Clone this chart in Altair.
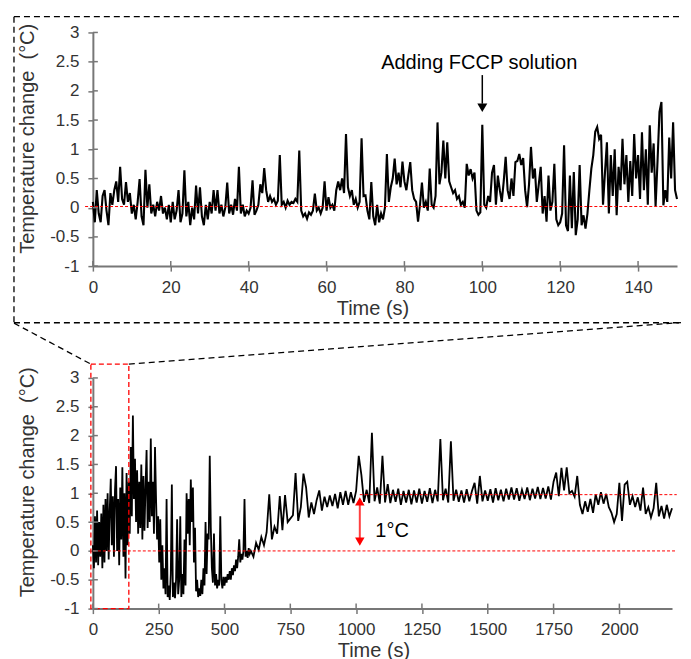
import altair as alt
import pandas as pd

# ---------------- data ----------------
TOP_STEP = 0.5  # s between samples of the zoomed (0-150 s) trace
top_temp = [
    0.1, -0.25, 0.3, -0.1, -0.25, 0.2, 0.3, -0.05, -0.3, 0.25, 0.05, 0.3, 0.45, 0.1, 0.7, 0.15, 0.05, 0.44, 0.1, 0.25,
    -0.1, 0.05, -0.2, 0.1, 0.49, -0.15, -0.3, 0.65, 0.0, 0.4, -0.1, 0.05, -0.15, 0.1, -0.05, 0.2, -0.1, 0.0, -0.2, 0.05,
    -0.25, 0.1, -0.2, -0.05, 0.3, -0.25, -0.1, 0.64, -0.15, 0.1, -0.3, 0.0, -0.2, 0.38, -0.1, 0.35, -0.15, -0.3, 0.05, -0.2,
    0.1, -0.1, 0.3, -0.05, 0.3, -0.1, 0.05, -0.15, 0.0, 0.43, -0.1, 0.05, -0.12, 0.15, -0.05, 0.7, -0.1, 0.05, -0.15, -0.05,
    -0.1, 0.0, 0.47, -0.12, -0.05, 0.05, 0.4, 0.25, 0.68, 0.3, 0.1, 0.2, 0.1, 0.15, 0.05, 0.12, 0.9, 0.05, 0.1, 0.0,
    0.12, 0.05, 0.1, 0.08, 0.15, 0.1, 0.98, -0.05, -0.15, -0.1, -0.19, -0.08, -0.12, -0.05, 0.24, -0.05, 0.0, -0.1, 0.0, 0.45,
    -0.05, 0.18, 0.0, 0.05, -0.05, 0.3, 0.45, 0.3, 0.5, 0.25, 1.26, 0.35, 0.2, 0.3, 0.05, 0.15, 0.0, 0.1, 1.19, 0.2,
    0.21, -0.05, -0.2, 0.44, -0.15, -0.3, 0.05, -0.25, -0.1, -0.2, 0.0, 0.92, 0.1, 0.35, 0.5, 0.84, 0.4, 0.6, 0.35, 0.79,
    0.45, 0.3, 0.55, 0.78, 0.3, 0.15, 0.1, -0.24, 0.05, 0.43, 0.0, 0.1, -0.05, 0.67, 0.05, 0.0, 0.2, 1.46, 0.4, 0.6,
    1.15, 0.5, 1.12, 0.45, 0.35, 0.25, 0.3, 0.15, 0.2, 0.05, 0.1, 0.0, 0.75, 0.55, 0.66, 0.5, 0.6, -0.05, -0.12, -0.08,
    1.42, 0.05, 0.0, 0.2, 0.1, 0.6, 0.73, 0.05, 0.55, 0.3, 0.1, 0.45, 0.87, 0.3, 0.15, 0.5, 0.2, 0.78, 0.8, 0.92,
    0.73, 0.85, 0.3, 0.01, 0.4, 1.04, 0.5, 0.67, 0.1, 0.4, 0.7, -0.1, 0.2, -0.24, 0.55, -0.05, 0.1, 0.75, -0.2, -0.3,
    -0.25, -0.1, 1.07, -0.3, -0.4, 0.55, -0.35, 0.61, -0.47, -0.2, 0.73, -0.3, -0.13, -0.36, -0.1, 0.3, 0.67, 0.9, 1.3, 1.38,
    1.18, 1.25, 0.05, 0.6, 1.12, -0.1, 0.9, 0.2, 1.0, -0.13, 0.7, 0.3, 1.18, 0.4, 0.9, 0.1, 0.8, 0.2, 1.26, 0.5,
    0.9, 0.15, 1.29, 0.3, 1.0, 0.05, 1.41, 0.6, 1.1, 0.02, 0.8, 1.64, 1.81, 0.04, 0.3, 0.1, 1.2, 0.5, 1.46, 0.3,
    0.15,
]

FAST_STEP = 4  # s, full-run trace 0-596 s
bottom_fast = [
    0.1, -0.3, 0.6, -0.2, 0.7, -0.25, 0.5, -0.1, 0.65, -0.3,
    0.8, -0.2, 0.9, 0.0, 1.0, -0.15, 0.7, 1.25, 0.1, 0.95,
    -0.1, 1.05, 1.47, 0.0, 0.9, -0.25, 1.1, 0.2, 1.45, -0.1,
    1.0, -0.48, 1.35, 0.1, 1.2, 0.3, 1.8, 0.6, 2.35, 0.9,
    1.6, 0.5, 1.4, 0.3, 1.2, 0.4, 1.5, 0.2, 1.3, 0.35,
    1.1, 1.75, 0.4, 1.2, 0.5, 1.95, 0.6, 1.2, 0.3, 1.8,
    0.9, 0.2, 0.6, -0.2, 0.55, -0.5, 0.1, -0.65, -0.3, -0.75,
    0.9, -0.8, -0.6, -0.85, -0.4, 1.15, -0.8, -0.55, -0.82, -0.5,
    0.55, -0.75, -0.5, 0.6, -0.8, -0.4, -0.75, 0.2, -0.6, 1.0,
    0.3, 0.9, 0.1, 1.24, 0.5, 1.1, -0.2, 0.4, -0.7, -0.5,
    -0.8, -0.65, -0.78, -0.5, -0.75, -0.3, -0.6, 0.5, -0.4, 0.3,
    0.2, 1.65, 0.4, -0.3, -0.55, 0.3, -0.6, -0.4, -0.65, -0.5,
    -0.6, 0.6, -0.5, -0.65, -0.45, -0.6, -0.45, -0.55, -0.4, -0.5,
    -0.35, -0.5, -0.3, -0.42, -0.25, -0.35, -0.15, -0.3, -0.1, 0.2,
    -0.2, -0.05, -0.15, 0.0, 0.9, -0.1, 0.0, -0.12, 0.05, -0.05,
]

SLOW_START = 600  # s, full-run trace 600-2200 s
SLOW_STEP = 10
bottom_slow = [
    0.0, -0.1, 0.14, 0.02, 0.24, 0.1, 0.32, 0.98, 0.2, 0.42,
    0.3, 0.95, 0.36, 0.97, 0.5, 0.56, 0.62, 1.35, 0.52, 0.76,
    1.34, 1.1, 0.58, 0.84, 0.64, 0.88, 1.05, 0.7, 0.94, 0.76,
    0.96, 0.78, 0.99, 0.74, 1.02, 0.8, 1.04, 0.8, 1.02, 0.83,
    1.04, 1.65, 1.32, 0.85, 1.06, 0.83, 2.05, 0.86, 1.1, 0.82,
    1.65, 0.84, 1.16, 0.83, 1.06, 0.85, 1.08, 0.8, 1.04, 0.84,
    1.06, 0.81, 1.05, 0.84, 1.08, 0.82, 1.04, 0.85, 1.09, 0.83,
    1.06, 0.86, 1.94, 0.88, 1.08, 0.84, 1.9, 0.87, 1.06, 0.85,
    1.05, 0.84, 1.07, 0.86, 1.04, 1.18, 0.82, 1.3, 0.86, 1.05,
    0.87, 1.07, 0.84, 1.09, 0.88, 1.06, 0.86, 1.08, 0.89, 1.1,
    0.89, 1.09, 0.87, 1.06, 0.9, 1.1, 0.88, 1.08, 0.91, 1.11,
    0.9, 1.09, 0.91, 1.12, 0.89, 1.2, 1.36, 0.95, 1.44, 1.05,
    1.45, 1.0, 1.04, 0.94, 1.3, 0.8, 0.64, 0.86, 0.68, 0.9,
    0.66, 0.98, 0.8, 1.02, 0.82, 0.99, 0.76, 0.66, 0.5, 0.64,
    1.18, 0.52, 1.15, 1.2, 0.8, 0.95, 0.76, 0.93, 0.7, 1.1,
    0.64, 0.76, 0.58, 0.74, 1.18, 0.6, 0.78, 0.56, 0.8, 0.6,
    0.74,
]

top_xticks = [0, 20, 40, 60, 80, 100, 120, 140]
bottom_xticks = [0, 250, 500, 750, 1000, 1250, 1500, 1750, 2000]
y_ticks = [-1, -0.5, 0, 0.5, 1, 1.5, 2, 2.5, 3]

top_df = pd.DataFrame({"t": [i * TOP_STEP for i in range(len(top_temp))], "v": top_temp})
bt = [i * FAST_STEP for i in range(len(bottom_fast))] + [SLOW_START + i * SLOW_STEP for i in range(len(bottom_slow))]
bottom_df = pd.DataFrame({"t": bt, "v": bottom_fast + bottom_slow})

# ---------------- layout / style ----------------
FONT = "Liberation Sans"
TW, TH = 585, 234
BW, BH = 580, 231
AXIS_GRAY = "#777777"

top_x = alt.Scale(domain=[0, 150], nice=False, zero=False)
bot_x = alt.Scale(domain=[0, 2200], nice=False, zero=False)
y_sc = alt.Scale(domain=[-1, 3], nice=False, zero=False)


def x_axis(vals, tx):
    return alt.Axis(values=vals, title="Time (s)", titleX=tx, titleY=32,
                    labelPadding=8, labelFlush=False, labelExpr="datum.value + ''")


def y_axis(ty):
    return alt.Axis(values=y_ticks, title="Temperature change\u00a0 (°C)", titleX=-55, titleY=ty,
                    labelPadding=9, labelExpr="datum.value + ''")


# ---------------- top (zoomed) panel ----------------
TXA = x_axis(top_xticks, 280)
TYA = y_axis(106)


def TX(f):
    return alt.X(f, scale=top_x, axis=TXA)


def TY(f):
    return alt.Y(f, scale=y_sc, axis=TYA)


top_line = alt.Chart(top_df).mark_line(color="black", strokeWidth=2.1).encode(x=TX("t:Q"), y=TY("v:Q"))
top_zero = alt.Chart(pd.DataFrame({"t": [-2], "t2": [150], "v": [0.02]})).mark_rule(
    color="#ff0000", strokeDash=[3, 2], strokeWidth=1).encode(x=TX("t:Q"), x2="t2:Q", y=TY("v:Q"))
# dashed frame around the zoomed panel (left, top, bottom sides; right side runs off the page)
frame = alt.Chart(pd.DataFrame({
    "t": [-20.26, -20.26, -20.26], "t2": [-20.26, 151.3, 151.3],
    "v": [3.27, 3.27, -1.97], "v2": [-1.97, 3.27, -1.97]})).mark_rule(
    color="black", strokeDash=[6, 4], strokeWidth=1.3).encode(x=TX("t:Q"), x2="t2:Q", y=TY("v:Q"), y2="v2:Q")
top_xt = alt.Chart(pd.DataFrame({"t": top_xticks})).mark_rule(color=AXIS_GRAY, strokeWidth=1.5).encode(
    x=TX("t:Q"), y=alt.value(TH), y2=alt.value(TH - 5))
top_yt = alt.Chart(pd.DataFrame({"v": y_ticks})).mark_rule(color=AXIS_GRAY, strokeWidth=1.5).encode(
    y=TY("v:Q"), x=alt.value(0), x2=alt.value(5))
ann = alt.Chart(pd.DataFrame({"t": [99.2], "v": [2.37], "label": ["Adding FCCP solution"]})).mark_text(
    font=FONT, fontSize=20, color="black", align="center", baseline="alphabetic").encode(
    x=TX("t:Q"), y=TY("v:Q"), text="label:N")
ann_stem = alt.Chart(pd.DataFrame({"t": [100], "v": [2.27], "v2": [1.78]})).mark_rule(
    color="black", strokeWidth=1.5).encode(x=TX("t:Q"), y=TY("v:Q"), y2="v2:Q")
ann_head = alt.Chart(pd.DataFrame({"t": [100], "v": [1.71]})).mark_point(
    shape="triangle-down", filled=True, size=100, color="black", opacity=1).encode(x=TX("t:Q"), y=TY("v:Q"))

top = alt.layer(top_line, top_zero, frame, top_xt, top_yt, ann, ann_stem, ann_head).properties(width=TW, height=TH)

# ---------------- bottom (full run) panel ----------------
BXA = x_axis(bottom_xticks, 281)
BYA = y_axis(104)


def BX(f):
    return alt.X(f, scale=bot_x, axis=BXA)


def BY(f):
    return alt.Y(f, scale=y_sc, axis=BYA)


bot_line = alt.Chart(bottom_df).mark_line(color="black", strokeWidth=1.8).encode(x=BX("t:Q"), y=BY("v:Q"))
bot_refs = alt.Chart(pd.DataFrame({"t": [0, 1014], "t2": [2218, 2218], "v": [0, 0.976]})).mark_rule(
    color="#ff0000", strokeDash=[3, 2], strokeWidth=1).encode(x=BX("t:Q"), x2="t2:Q", y=BY("v:Q"))
zoom_rect = alt.Chart(pd.DataFrame({"t": [-7.6], "t2": [136.6], "v": [3.24], "v2": [-1]})).mark_rect(
    fill="white", fillOpacity=0, stroke="#ff0000", strokeDash=[5, 3], strokeWidth=1.3).encode(
    x=BX("t:Q"), x2="t2:Q", y=BY("v:Q"), y2="v2:Q")
zoom_lines = alt.Chart(pd.DataFrame({"t": [-299.6, 136.6], "t2": [-7.6, 2234],
                                     "v": [3.95, 3.24], "v2": [3.24, 3.96]})).mark_rule(
    color="black", strokeDash=[6, 4], strokeWidth=1.3).encode(x=BX("t:Q"), x2="t2:Q", y=BY("v:Q"), y2="v2:Q")
bot_xt = alt.Chart(pd.DataFrame({"t": bottom_xticks})).mark_rule(color=AXIS_GRAY, strokeWidth=1.5).encode(
    x=BX("t:Q"), y=alt.value(BH), y2=alt.value(BH - 5))
bot_yt = alt.Chart(pd.DataFrame({"v": y_ticks})).mark_rule(color=AXIS_GRAY, strokeWidth=1.5).encode(
    y=BY("v:Q"), x=alt.value(0), x2=alt.value(5))
delta_stem = alt.Chart(pd.DataFrame({"t": [1014], "v": [0.16], "v2": [0.86]})).mark_rule(
    color="#ff4040", strokeWidth=2).encode(x=BX("t:Q"), y=BY("v:Q"), y2="v2:Q")
delta_heads = alt.Chart(pd.DataFrame({"t": [1014, 1014], "v": [0.86, 0.16],
                                      "shape": ["triangle-up", "triangle-down"]})).mark_point(
    filled=True, size=90, color="#ff0000", opacity=1).encode(
    x=BX("t:Q"), y=BY("v:Q"), shape=alt.Shape("shape:N", scale=None, legend=None))
delta_label = alt.Chart(pd.DataFrame({"t": [1073], "v": [0.235], "label": ["1°C"]})).mark_text(
    font=FONT, fontSize=20, color="black", align="left", baseline="alphabetic").encode(
    x=BX("t:Q"), y=BY("v:Q"), text="label:N")

bottom = alt.layer(bot_line, bot_refs, zoom_rect, zoom_lines, bot_xt, bot_yt,
                   delta_stem, delta_heads, delta_label).properties(width=BW, height=BH)

chart = alt.vconcat(top, bottom, spacing=112, bounds="flush").properties(
    padding={"left": 5, "top": 7, "right": 0, "bottom": 0}
).configure(font=FONT).configure_axis(
    labelFont=FONT, labelFontSize=17, labelColor="#333333",
    titleFont=FONT, titleFontSize=20, titleFontWeight="normal", titleColor="#333333",
    domainColor=AXIS_GRAY, domainWidth=2, tickColor=AXIS_GRAY, tickWidth=1.5, tickSize=5, grid=False,
).configure_view(stroke=None)

chart.save("out.html", embed_options={"renderer": "svg", "actions": False})
